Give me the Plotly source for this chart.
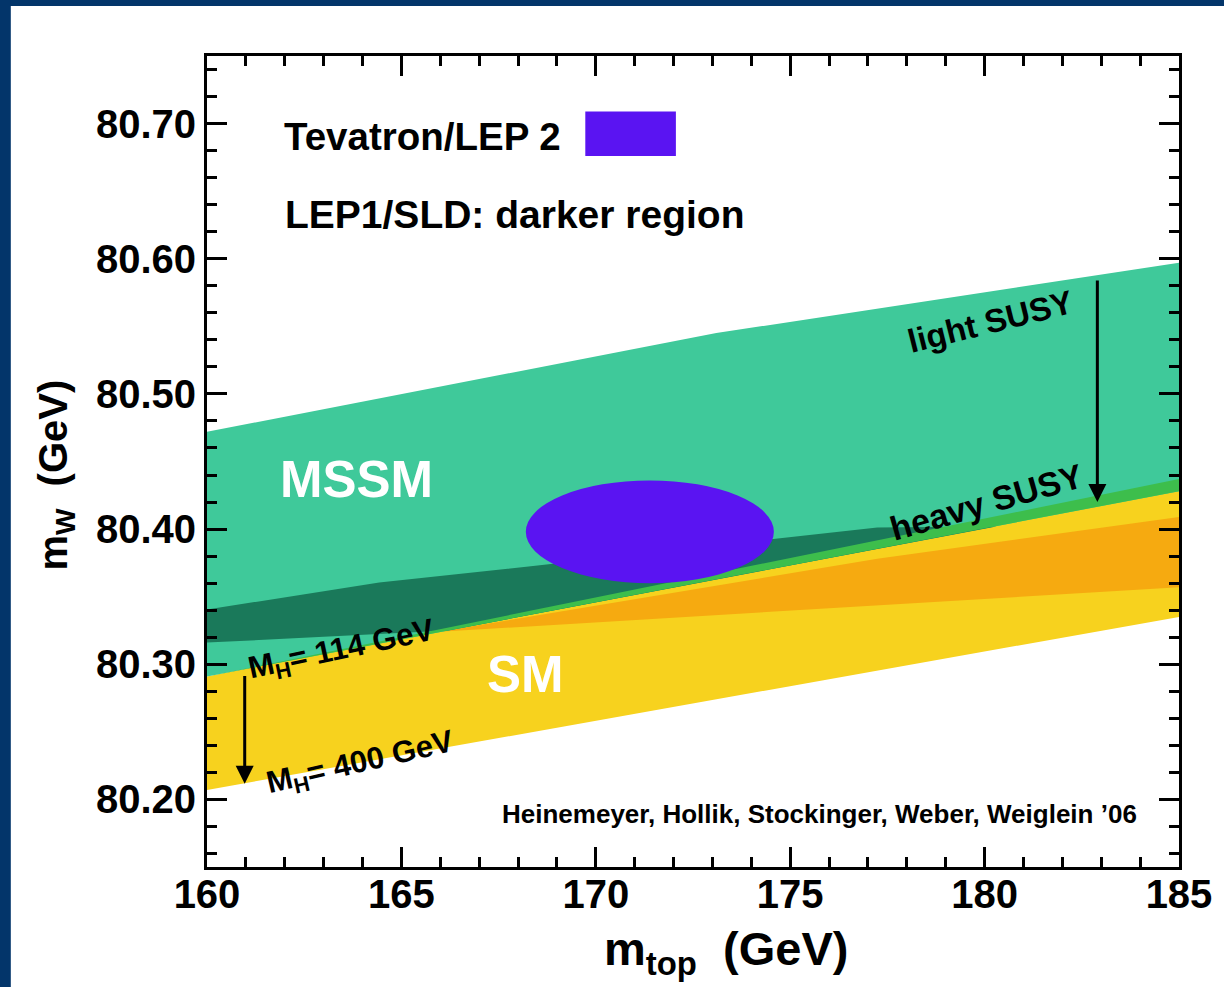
import plotly.graph_objects as go

# ---------------- data ----------------
# MSSM band (light teal)
mssm_top_mt = [160.0, 173.1, 185.0]
mssm_top_mw = [80.472, 80.545, 80.597]
mssm_bot_mt = [185.0, 160.0]
mssm_bot_mw = [80.428, 80.291]

# SM band (yellow)
sm_top_mt = [160.0, 185.0]
sm_top_mw = [80.291, 80.437]
sm_bot_mt = [185.0, 160.0]
sm_bot_mw = [80.335, 80.207]

# SM, LEP1/SLD darker region (orange)
sm_dark_top_mt = [165.97, 177.24, 185.0]
sm_dark_top_mw = [80.324, 80.378, 80.409]
sm_dark_bot_mt = [185.0]
sm_dark_bot_mw = [80.357]

# MSSM, LEP1/SLD darker region (dark green)
mssm_dark_top_mt = [160.0, 164.43, 168.27, 177.24, 180.3]
mssm_dark_top_mw = [80.3405, 80.3605, 80.3723, 80.4012, 80.402]
mssm_dark_bot_mt = [166.2, 160.0]
mssm_dark_bot_mw = [80.325, 80.316]

# Tevatron / LEP2 measurement ellipse
ellipse_mt, ellipse_dmt = 171.39, 3.19
ellipse_mw, ellipse_dmw = 80.398, 0.038

x_ticks = [160, 165, 170, 175, 180, 185]
y_ticks = [80.20, 80.30, 80.40, 80.50, 80.60, 80.70]
y_ticklabels = ["80.20", "80.30", "80.40", "80.50", "80.60", "80.70"]

# ---------------- styles ----------------
C_TEAL = "#3FC99A"
C_DKGREEN = "#1A795A"
C_GREEN = "#3DBE4C"
C_YELLOW = "#F7D21E"
C_ORANGE = "#F6AA10"
C_BLUE = "#5A14F2"
C_NAVY = "#03356A"
FONT = "Liberation Sans, Arial, sans-serif"

fig = go.Figure()


def band(xs, ys, color):
    fig.add_trace(go.Scatter(x=xs + [xs[0]], y=ys + [ys[0]], mode="lines",
                             fill="toself", fillcolor=color,
                             line=dict(width=0, color=color),
                             hoverinfo="skip", showlegend=False))


band(sm_top_mt + sm_bot_mt, sm_top_mw + sm_bot_mw, C_YELLOW)
band(sm_dark_top_mt + sm_dark_bot_mt, sm_dark_top_mw + sm_dark_bot_mw, C_ORANGE)
band(mssm_top_mt + mssm_bot_mt, mssm_top_mw + mssm_bot_mw, C_TEAL)
band(mssm_dark_top_mt + mssm_dark_bot_mt, mssm_dark_top_mw + mssm_dark_bot_mw, C_DKGREEN)
# overlap of MSSM and SM bands
band([sm_top_mt[0], sm_top_mt[1], mssm_bot_mt[0]],
     [sm_top_mw[0], sm_top_mw[1], mssm_bot_mw[0]], C_GREEN)

shapes = []
# ellipse
shapes.append(dict(type="circle", xref="x", yref="y",
                   x0=ellipse_mt - ellipse_dmt, x1=ellipse_mt + ellipse_dmt,
                   y0=ellipse_mw - ellipse_dmw, y1=ellipse_mw + ellipse_dmw,
                   fillcolor=C_BLUE, line=dict(width=0), layer="above"))
# legend swatch
shapes.append(dict(type="rect", xref="x", yref="y",
                   x0=169.73, x1=172.06, y0=80.676, y1=80.709,
                   fillcolor=C_BLUE, line=dict(width=0), layer="above"))
# navy page border (top and left strips)
shapes.append(dict(type="rect", xref="paper", yref="paper",
                   x0=-0.23, x1=1.1, y0=(867 - 6) / 811, y1=1.2,
                   fillcolor=C_NAVY, line=dict(width=0), layer="below"))
shapes.append(dict(type="rect", xref="paper", yref="paper",
                   x0=-0.23, x1=(10 - 207) / 976, y0=-0.2, y1=1.2,
                   fillcolor=C_NAVY, line=dict(width=0), layer="below"))

ann = []


def txt(x, y, s, size, color="black", angle=0, xanchor="center"):
    ann.append(dict(x=x, y=y, xref="x", yref="y",
                    text=s, showarrow=False, textangle=angle,
                    xanchor=xanchor, yanchor="middle",
                    font=dict(family=FONT, size=size, color=color, weight="bold")))


txt(161.92, 80.6904, "Tevatron/LEP 2", 38.5, xanchor="left")
txt(161.95, 80.6327, "LEP1/SLD: darker region", 39, xanchor="left")
txt(163.84, 80.4367, "MSSM", 51, color="white")
txt(168.2, 80.2925, "SM", 51, color="white")
txt(180.15, 80.5536, "light SUSY", 33, angle=-14)
txt(180.05, 80.4204, "heavy SUSY", 34, angle=-16)
txt(163.45, 80.3095, "M<sub>H</sub>= 114 GeV", 31, angle=-12)
txt(163.95, 80.2259, "M<sub>H</sub>= 400 GeV", 31, angle=-13)
txt(183.98, 80.1889, "Heinemeyer, Hollik, Stockinger, Weber, Weiglein \u201906", 26,
    xanchor="right")

# arrows
for xa, y_tail, y_tip in [(160.97, 80.2925, 80.2115), (182.9, 80.585, 80.42)]:
    ann.append(dict(x=xa, y=y_tip, ax=xa, ay=y_tail, xref="x", yref="y",
                    axref="x", ayref="y", text="", showarrow=True,
                    arrowhead=2, arrowsize=1.2, arrowwidth=3, arrowcolor="black"))

# axis titles
ann.append(dict(x=(728 - 207) / 976, y=(867 - 952) / 811, xref="paper", yref="paper",
                text="m<sub>top</sub>  (GeV)", showarrow=False,
                xanchor="center", yanchor="middle",
                font=dict(family=FONT, size=47, color="black", weight="bold")))
ann.append(dict(x=(55 - 207) / 976, y=(867 - 475) / 811, xref="paper", yref="paper",
                text="m<sub>W</sub>  (GeV)", showarrow=False, textangle=-90,
                xanchor="center", yanchor="middle",
                font=dict(family=FONT, size=40, color="black", weight="bold")))

axis_common = dict(showline=True, linecolor="black", linewidth=3, mirror="allticks",
                   ticks="inside", ticklen=20, tickwidth=3, tickcolor="black",
                   showgrid=False, zeroline=False,
                   tickfont=dict(family=FONT, size=40, color="black", weight="bold"))

fig.update_layout(
    width=1224, height=987,
    margin=dict(l=207, r=41, t=56, b=120),
    paper_bgcolor="white", plot_bgcolor="white",
    showlegend=False,
    shapes=shapes, annotations=ann,
    xaxis=dict(range=[160, 185], tickvals=x_ticks, ticklabelstandoff=-10,
               minor=dict(dtick=1, ticklen=10, tickwidth=3, tickcolor="black",
                          ticks="inside", showgrid=False),
               **axis_common),
    yaxis=dict(range=[80.15, 80.75], tickvals=y_ticks, ticktext=y_ticklabels,
               minor=dict(dtick=0.02, tick0=80.0, ticklen=10, tickwidth=3,
                          tickcolor="black", ticks="inside", showgrid=False),
               **axis_common),
)

fig.write_html("out.html")
